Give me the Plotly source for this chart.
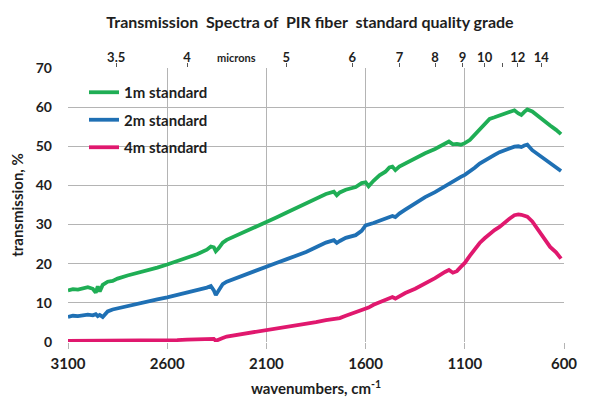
import plotly.graph_objects as go

# ---- data ----
wavenumbers = [
    3100, 3075, 3050, 3025, 3000, 2975, 2960, 2950, 2940, 2925,
    2900, 2875, 2850, 2800, 2750, 2700, 2650, 2600, 2550, 2500,
    2450, 2400, 2380, 2365, 2355, 2340, 2320, 2300, 2250, 2200,
    2150, 2100, 2050, 2000, 1950, 1900, 1850, 1800, 1760, 1745,
    1730, 1700, 1650, 1620, 1600, 1585, 1560, 1530, 1500, 1480,
    1465, 1450, 1430, 1400, 1350, 1300, 1250, 1200, 1180, 1160,
    1140, 1120, 1100, 1075, 1050, 1025, 1000, 975, 950, 925,
    900, 875, 850, 830, 815, 800, 785, 760, 730, 700,
    670, 640, 615,
]

t_1m = [
    13.2, 13.5, 13.4, 13.8, 14.0, 13.6, 12.6, 14.2, 12.9, 14.6,
    15.4, 15.6, 16.2, 17.0, 17.6, 18.4, 19.0, 19.8, 20.6, 21.4,
    22.4, 23.6, 24.4, 24.2, 23.2, 24.0, 25.4, 26.1, 27.2, 28.3,
    29.5, 30.7, 31.8, 33.0, 34.2, 35.3, 36.6, 37.8, 38.4, 37.5,
    38.2, 38.9, 39.6, 40.6, 40.8, 39.8, 41.2, 42.6, 43.5, 44.6,
    44.8, 43.9, 44.8, 45.6, 47.0, 48.2, 49.3, 50.5, 51.2, 50.5,
    50.6, 50.4, 50.8, 51.6, 53.0, 54.5, 55.9, 57.0, 57.4, 57.9,
    58.3, 58.7, 59.2, 58.4, 58.0, 58.8, 59.4, 58.9, 57.6, 56.6,
    55.3, 54.2, 53.1,
]

t_2m = [
    6.4, 6.7, 6.6, 6.9, 7.0, 6.8, 7.1, 6.6, 6.9, 6.4,
    7.8, 8.3, 8.6, 9.3, 9.9, 10.4, 10.9, 11.4, 12.0, 12.6,
    13.3, 13.9, 14.3, 13.2, 12.0, 13.3, 14.8, 15.4, 16.4, 17.3,
    18.2, 19.2, 20.2, 21.1, 22.0, 23.0, 24.2, 25.4, 26.0, 25.3,
    25.8, 26.6, 27.3, 28.4, 29.8, 30.0, 30.4, 31.0, 31.5, 31.8,
    32.2, 31.9, 32.8, 33.8, 35.4, 37.0, 38.3, 39.8, 40.6, 41.2,
    41.7, 42.2, 42.7, 43.5, 44.5, 45.6, 46.4, 47.1, 47.8, 48.5,
    49.0, 49.5, 49.9, 50.0, 49.8, 50.2, 50.4, 49.0, 47.9, 46.9,
    45.9, 44.7, 43.7,
]

t_4m = [
    0.3, 0.3, 0.4, 0.3, 0.4, 0.3, 0.4, 0.3, 0.4, 0.3,
    0.3, 0.4, 0.3, 0.4, 0.4, 0.4, 0.5, 0.5, 0.5, 0.6,
    0.7, 0.9, 1.0, 0.8, 0.3, 0.5, 1.0, 1.4, 1.8, 2.2,
    2.5, 2.9, 3.3, 3.7, 4.1, 4.6, 5.1, 5.6, 6.0, 6.1,
    6.1, 6.7, 7.6, 8.2, 8.7, 8.8, 9.5, 10.1, 10.7, 11.2,
    11.5, 11.1, 11.7, 12.5, 13.6, 14.9, 16.3, 17.9, 18.4, 17.7,
    18.1, 19.2, 20.2, 22.0, 23.7, 25.3, 26.5, 27.6, 28.6, 29.4,
    30.6, 31.5, 32.4, 32.6, 32.5, 32.3, 32.0, 30.8, 28.6, 26.5,
    24.3, 22.9, 21.3,
]

series_names = ["1m standard", "2m standard", "4m standard"]
series_colors = ["#1fae55", "#1f70b4", "#e0186e"]

x_ticks = [3100, 2600, 2100, 1600, 1100, 600]
y_ticks = [0, 10, 20, 30, 40, 50, 60, 70]
micron_ticks = [3.5, 4, 5, 6, 7, 8, 9, 10, 11, 12, 14]
micron_labels = ["3.5", "4", "5", "6", "7", "8", "9", "10", "", "12", "14"]

FONT = "Lato"
TXT = "#1e1e1e"
GRID = "#b4b4b4"

# the page body adds an 8px offset; figure is sized so the plot area lands at
# page pixels x 68..564, y 68..342
OFF = 8
W, H = 582, 391
L, R, T, B = 60, 26, 60, 57
PX0, PX1, PY0, PY1 = 68, 564, 68, 342
PW, PH = PX1 - PX0, PY1 - PY0


def px(xp):
    return (xp - PX0) / PW


def py(yp):
    return (PY1 - yp) / PH


fig = go.Figure()
for name, ys, col in zip(series_names, [t_1m, t_2m, t_4m], series_colors):
    fig.add_trace(go.Scatter(
        x=wavenumbers, y=ys, mode="lines", name=name, legendgroup=name,
        line=dict(color=col, width=3.8, shape="linear"),
    ))
# invisible trace so the top (microns) axis is drawn
fig.add_trace(go.Scatter(
    x=wavenumbers, y=t_1m, xaxis="x2", mode="lines", showlegend=False,
    hoverinfo="skip", line=dict(color="rgba(0,0,0,0)", width=0),
))

fig.update_layout(
    width=W, height=H, autosize=False,
    margin=dict(l=L, r=R, t=T, b=B),
    paper_bgcolor="white", plot_bgcolor="white",
    font=dict(family=FONT, color=TXT, size=13),
    title=dict(
        text="<b>Transmission  Spectra of  PIR fiber  standard quality grade</b>",
        x=(310 - OFF) / W, xanchor="center", y=1 - (22 - OFF) / H, yanchor="middle",
        font=dict(family=FONT, size=16, color=TXT),
    ),
    showlegend=True,
    legend=dict(
        x=px(84), y=py(76), xanchor="left", yanchor="top",
        bgcolor="rgba(255,255,255,0)", borderwidth=0,
        font=dict(family=FONT, size=15, color=TXT, weight="bold"),
        itemwidth=30, tracegroupgap=5,
    ),
    xaxis=dict(
        range=[3100, 600], tickvals=x_ticks,
        ticktext=[f"<b>{v}</b>" for v in x_ticks],
        showgrid=True, gridcolor=GRID, gridwidth=1,
        ticks="outside", ticklen=6, tickcolor=GRID,
        ticklabelstandoff=2,
        showline=False, zeroline=False, automargin=False,
        tickfont=dict(family=FONT, size=15, color=TXT),
        title=dict(text="<b>wavenumbers, cm<sup>-1</sup></b>", standoff=12,
                   font=dict(family=FONT, size=15, color=TXT)),
    ),
    xaxis2=dict(
        overlaying="x", side="top", range=[3100, 600],
        tickvals=[10000 / m for m in micron_ticks],
        ticktext=[f"<b>{t}</b>" if t else " " for t in micron_labels],
        showgrid=False, zeroline=False, showline=False, automargin=False,
        ticks="outside", ticklen=4, tickcolor="#555555",
        ticklabelstandoff=-4,
        tickfont=dict(family=FONT, size=13, color=TXT),
    ),
    yaxis=dict(
        range=[0, 70], tickvals=y_ticks,
        ticktext=[f"<b>{v}</b>" for v in y_ticks],
        showgrid=True, gridcolor=GRID, gridwidth=1,
        zeroline=False, showline=False, ticks="", automargin=False,
        ticklabelstandoff=15,
        tickfont=dict(family=FONT, size=14, color=TXT),
        title=dict(text="<b>transmission, %</b>", standoff=11,
                   font=dict(family=FONT, size=15, color=TXT)),
    ),
)

fig.add_annotation(
    x=px(236), y=py(57), xref="paper", yref="paper",
    text="<b>microns</b>", showarrow=False, xanchor="center", yanchor="middle",
    font=dict(family=FONT, size=11, color=TXT),
)

fig.write_html("out.html")
